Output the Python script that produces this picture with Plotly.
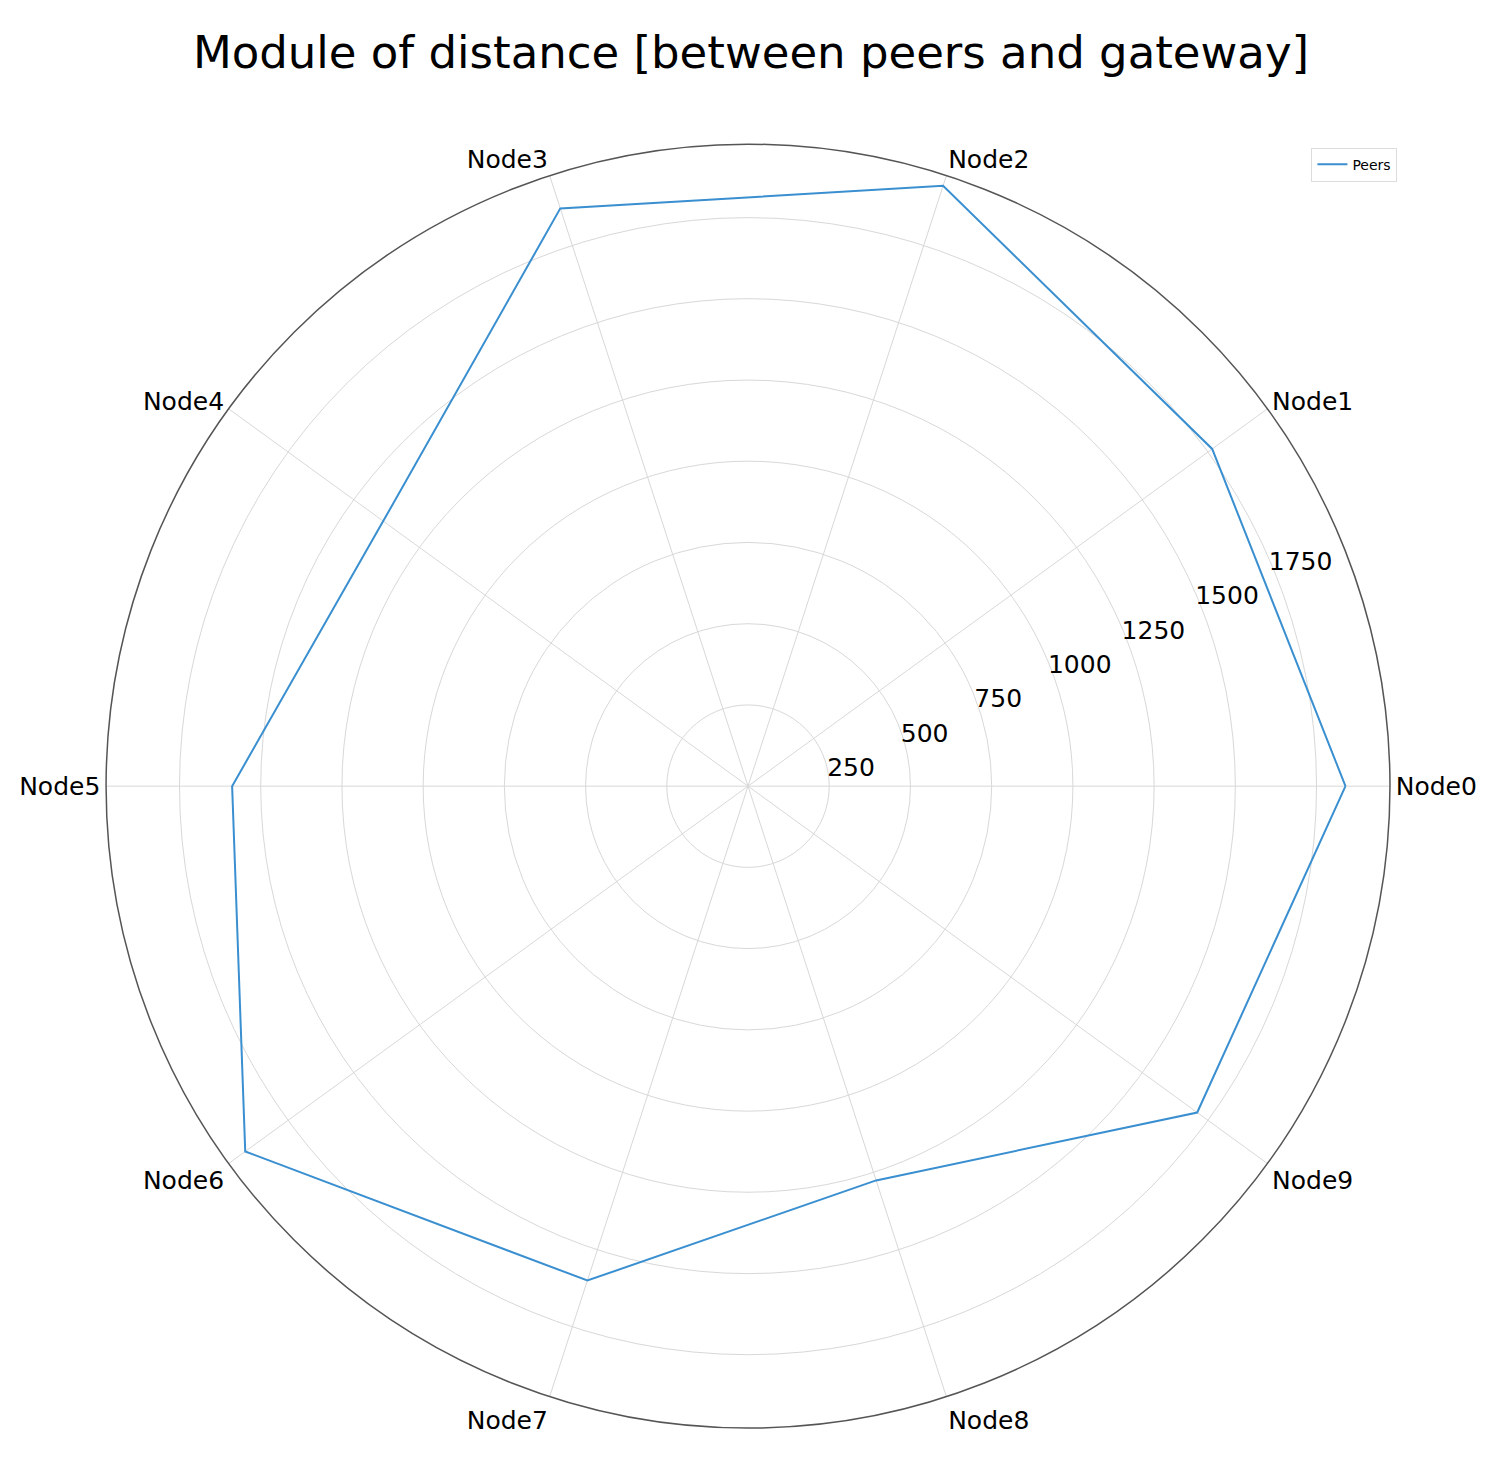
import plotly.graph_objects as go

nodes = ["Node0","Node1","Node2","Node3","Node4","Node5","Node6","Node7","Node8","Node9"]
distances = [1839, 1766, 1943, 1870, 1388, 1588, 1913, 1600, 1276, 1709]
radial_ticks = [250, 500, 750, 1000, 1250, 1500, 1750]

fig = go.Figure()
fig.add_trace(go.Scatterpolar(
    r=distances + distances[:1], theta=nodes + nodes[:1], mode="lines",
    line=dict(color="#3a8fd0", width=2), name="Peers"))

fig.update_layout(
    width=1486, height=1471, margin=dict(l=0, r=0, t=0, b=0),
    paper_bgcolor="white", plot_bgcolor="white",
    font=dict(family="DejaVu Sans", color="black"),
    title=dict(text="Module of distance [between peers and gateway]", x=0.5, y=0.97,
               xanchor="center", yanchor="middle", font=dict(size=45, family="DejaVu Sans")),
    showlegend=True,
    legend=dict(x=0.935, y=0.905, xanchor="right", yanchor="top", bgcolor="white",
                bordercolor="#dddddd", borderwidth=1, font=dict(size=14)),
    polar=dict(
        domain=dict(x=[0.066, 0.930], y=[0.030, 0.912]),
        bgcolor="white",
        angularaxis=dict(direction="counterclockwise", rotation=0, showline=True,
                         linecolor="#555555", linewidth=1.5, gridcolor="#d8d8d8",
                         ticks="", tickfont=dict(size=25)),
        radialaxis=dict(range=[0, 1976], tickvals=radial_ticks, angle=25, tickangle=25,
                        showline=False, gridcolor="#d8d8d8", ticks="",
                        tickfont=dict(size=25)),
    ),
)
fig.write_html("out.html")
